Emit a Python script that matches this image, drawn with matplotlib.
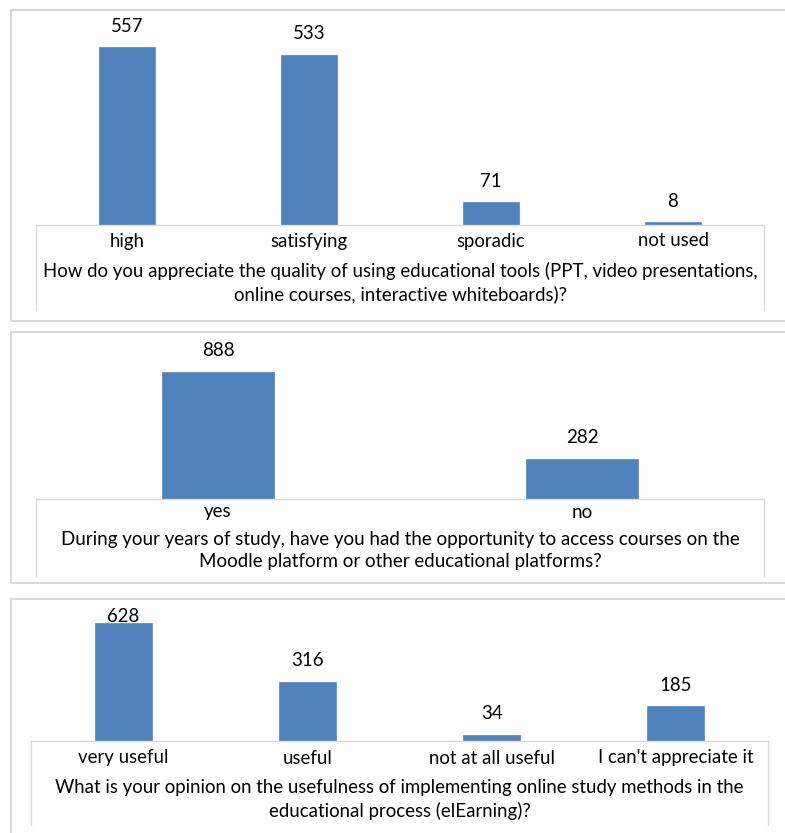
import matplotlib.pyplot as plt
import matplotlib.transforms as mtransforms
from matplotlib.lines import Line2D
from matplotlib.patches import Rectangle

W, H = 785, 833
DPI = 100

# survey answers (counts)
q1_labels = ['high', 'satisfying', 'sporadic', 'not used']
q1_values = [557, 533, 71, 8]
q1_title = ['How do you appreciate the quality of using educational tools (PPT, video presentations,',
            'online courses, interactive whiteboards)?']

q2_labels = ['yes', 'no']
q2_values = [888, 282]
q2_title = ['During your years of study, have you had the opportunity to access courses on the',
            'Moodle platform or other educational platforms?']

q3_labels = ['very useful', 'useful', 'not at all useful', "I can't appreciate it"]
q3_values = [628, 316, 34, 185]
q3_title = ['What is your opinion on the usefulness of implementing online study methods in the',
            'educational process (elEarning)?']

BAR = '#4F81BD'
GRID = '#D9D9D9'

plt.rcParams['font.family'] = ['Lato', 'DejaVu Sans']

fig = plt.figure(figsize=(W / DPI, H / DPI), dpi=DPI)
fig.patch.set_facecolor('white')


def fy(py):
    return 1 - py / H


def fx(px):
    return px / W


def panel(labels, values, title, frame_top, frame_bot, box_l, box_r, base,
          scale, label_y, q_y, box_bot, fs):
    # outer frame of the chart
    fig.add_artist(Rectangle((fx(11), fy(frame_bot)), fx(790 - 11), fy(frame_top) - fy(frame_bot),
                             transform=fig.transFigure, fill=False, edgecolor=GRID, lw=1.5))
    ax_top = frame_top + 2
    ax = fig.add_axes([fx(box_l), fy(base), fx(box_r - box_l), (base - ax_top) / H])
    ymax = (base - ax_top) / scale
    n = len(values)
    ax.bar(range(n), values, width=0.31, color=BAR, edgecolor='#5B8DC9', lw=0.6)
    ax.set_xlim(-0.5, n - 0.5)
    ax.set_ylim(0, ymax)
    ax.axis('off')
    for i, v in enumerate(values):
        y = min(v + 21 / scale, ymax - 15 / scale)
        ax.text(i, y, str(v), ha='center', va='center', fontsize=fs, color='black')
    tr = mtransforms.blended_transform_factory(ax.transData, fig.transFigure)
    for i, lab in enumerate(labels):
        ax.text(i, fy(label_y), lab, transform=tr, ha='center', va='center', fontsize=fs)
    # box holding the category axis and question
    fig.add_artist(Line2D([fx(box_l), fx(box_r)], [fy(base), fy(base)], color=GRID, lw=1))
    fig.add_artist(Line2D([fx(box_l), fx(box_l)], [fy(base), fy(box_bot)], color=GRID, lw=1))
    fig.add_artist(Line2D([fx(box_r), fx(box_r)], [fy(base), fy(box_bot)], color=GRID, lw=1))
    for line, y in zip(title, q_y):
        fig.text(fx((box_l + box_r) / 2), fy(y), line, ha='center', va='center', fontsize=fs)


panel(q1_labels, q1_values, q1_title, 10, 321, 36, 764, 225, 0.3196,
      241, [271, 294], 310, 13.4)
panel(q2_labels, q2_values, q2_title, 332, 583, 36, 764, 499, 0.1435,
      512, [539, 562], 576, 13.5)
panel(q3_labels, q3_values, q3_title, 599, 900, 31, 768, 741, 0.1875,
      758, [787, 811], 825, 13.4)

fig.savefig('out.png', dpi=DPI)
